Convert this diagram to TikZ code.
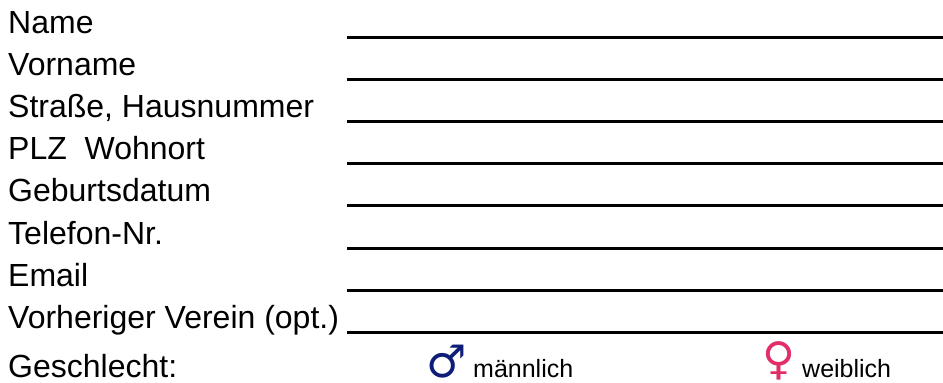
\documentclass[tikz,border=0pt]{standalone}
\usepackage{fontspec}
\setmainfont{Liberation Sans}
\newfontfamily\symfont{DejaVu Sans}
\definecolor{maleblue}{RGB}{14,30,120}
\definecolor{femalered}{RGB}{226,46,104}
\newcommand{\zeichen}[1]{\raisebox{0pt}[\height][0pt]{#1}}
\begin{document}
\begin{tikzpicture}[x=1pt,y=-1pt,
    feld/.style={anchor=base west, inner sep=0pt, font=\fontsize{32}{38}\selectfont},
    klein/.style={anchor=base west, inner sep=0pt, font=\fontsize{25}{30}\selectfont},
    symbol/.style={anchor=base west, inner sep=0pt, font=\symfont\bfseries\fontsize{45}{45}\selectfont},
    linie/.style={line width=3pt}]
    \useasboundingbox (0,0) rectangle (943,383);

    \foreach \t [count=\i] in {Name, Vorname, {Straße, Hausnummer}, PLZ~~Wohnort,
        Geburtsdatum, Telefon-Nr., Email, Vorheriger Verein (opt.)} {
        \node[feld] (f\i) at (8,{33+42.2*(\i-1)}) {\t};
        \coordinate (s\i) at (347,{37+42.2*(\i-1)});
        \coordinate (e\i) at (943,{37+42.2*(\i-1)});
        \draw[linie] (s\i) -- (e\i);
    }

    \node[feld] (g) at (8,377) {Geschlecht:};
    \node[symbol, text=maleblue] (m) at (426,377) {\zeichen{♂}};
    \node[klein] (mt) at (473,377) {männlich};
    \node[symbol, text=femalered] (w) at (762,374) {\zeichen{♀}};
    \node[klein] (wt) at (802,377) {weiblich};
\end{tikzpicture}
\end{document}
